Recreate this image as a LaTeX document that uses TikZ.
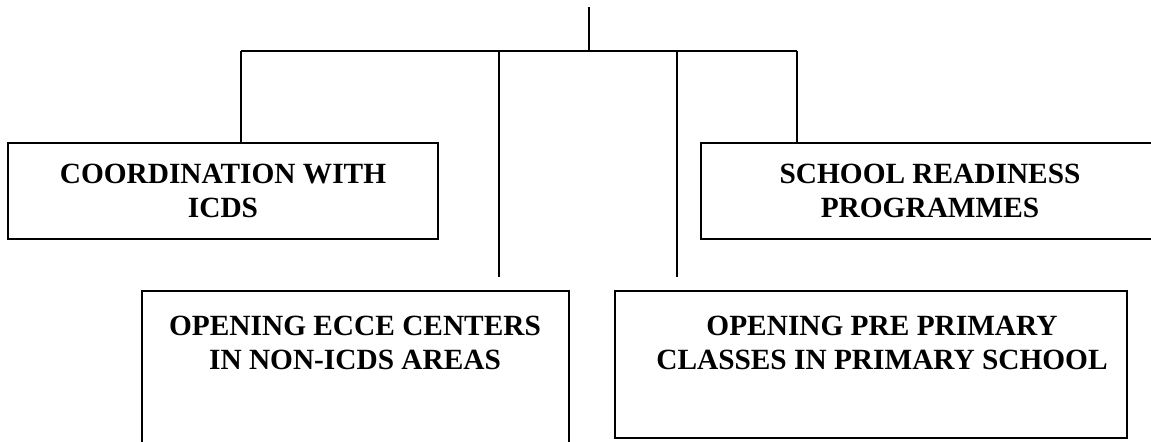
\documentclass[tikz,border=0pt]{standalone}
\usepackage{fontspec}
\setmainfont{Liberation Serif}

\begin{document}
\begin{tikzpicture}[x=0.02cm, y=-0.02cm]

\tikzset{
  unitbox/.style={draw, line width=1.1pt, inner sep=0pt, align=center,
    font=\fontsize{16.7}{19.8}\selectfont\bfseries},
  unittext/.style={inner sep=0pt, align=center,
    font=\fontsize{16.7}{19.8}\selectfont\bfseries},
  link/.style={line width=1.2pt}
}

\useasboundingbox (0,0) rectangle (1151,441);
\clip (0,0) rectangle (1151,441);

% junction points of the tree
\coordinate (rootEnd) at (589,7);
\coordinate (hub) at (589,51);
\coordinate (barL) at (241,51);
\coordinate (barR) at (797,51);
\coordinate (ecceTop) at (499,51);
\coordinate (ppTop) at (677,51);
\coordinate (ecceEnd) at (499,277);
\coordinate (ppEnd) at (677,277);

% boxes
\node[unitbox, minimum width=8.6cm, minimum height=1.92cm] (icds) at (223,191)
  {COORDINATION WITH\\ICDS};
\node[unitbox, minimum width=9.16cm, minimum height=1.92cm] (ready) at (930,191)
  {SCHOOL READINESS\\PROGRAMMES};
\node[unitbox, minimum width=8.54cm, minimum height=3.18cm] (ecce) at (355.5,370.5) {};
\node[unittext] (ecceText) at (355,343)
  {OPENING ECCE CENTERS\\IN NON-ICDS AREAS};
\node[unitbox, minimum width=10.24cm, minimum height=2.94cm] (prepri) at (871,364.5) {};
\node[unittext] (prepriText) at (882,343)
  {OPENING PRE PRIMARY\\CLASSES IN PRIMARY SCHOOL};

% connectors
\draw[link, line width=1.5pt] (rootEnd) -- (hub);
\draw[link] (barL) -- (barR);
\draw[link] (barL) -- (barL |- icds.north);
\draw[link] (barR) -- (barR |- ready.north);
\draw[link] (ecceTop) -- (ecceEnd);
\draw[link] (ppTop) -- (ppEnd);

\end{tikzpicture}
\end{document}
